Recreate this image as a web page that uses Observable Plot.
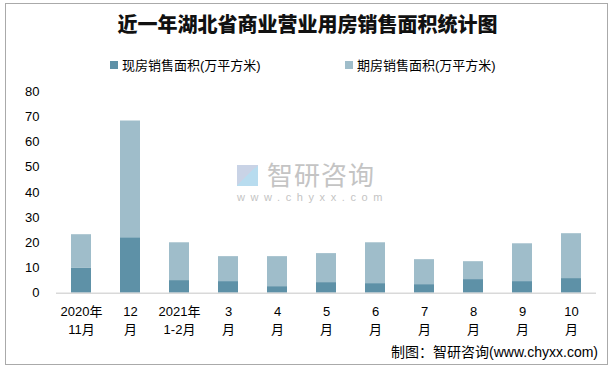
<!DOCTYPE html>
<html>
<head>
<meta charset="utf-8">
<script src="https://cdn.jsdelivr.net/npm/d3@7"></script>
<script src="https://cdn.jsdelivr.net/npm/@observablehq/plot@0.6"></script>
<style>
  html, body { margin: 0; padding: 0; background: #fff; }
  #wrap { position: relative; width: 615px; height: 369px; overflow: hidden; font-family: 'Liberation Sans', 'Noto Sans CJK SC', sans-serif; }
  #frame { position: absolute; left: 5px; top: 3px; width: 603px; height: 362px; border: 1px solid #aaaaaa; box-sizing: border-box; }
  #title { position: absolute; left: 0; width: 615px; top: 10px; text-align: center; font-family: 'Noto Sans CJK SC', sans-serif; font-weight: 900; font-size: 20px; line-height: 28px; color: #111; }
  .leg { position: absolute; top: 58px; font-size: 13px; line-height: 16px; color: #000; white-space: nowrap; font-family: 'Liberation Sans', 'Noto Sans CJK SC', sans-serif; }
  .leg i { display: inline-block; width: 8px; height: 8px; margin-right: 4px; vertical-align: 1px; }
  #caption { position: absolute; right: 17px; top: 343px; font-size: 14px; line-height: 18px; color: #000; white-space: nowrap; }
  #wm { position: absolute; left: 237px; top: 162px; color: #c4c4c4; }
  #wm .logo { position: absolute; left: 0; top: 3px; width: 21px; height: 21px; background: linear-gradient(135deg, #c9d3e6 0%, #c9d3e6 50%, #b8dcef 50%, #b8dcef 100%); }
  #wm .name { position: absolute; left: 30px; top: -3px; font-family: 'Noto Sans CJK SC', sans-serif; font-size: 26px; line-height: 30px; letter-spacing: 1px; white-space: nowrap; }
  #wm .url { position: absolute; left: 0; top: 29px; font-size: 11px; letter-spacing: 5.6px; white-space: nowrap; }
  #chart { position: absolute; left: 0; top: 0; }
</style>
</head>
<body>
<div id="wrap">
  <div id="frame"></div>
  <div id="wm"><div class="logo"></div><div class="name">智研咨询</div><div class="url">www.chyxx.com</div></div>
  <div id="chart"></div>
  <div id="title">近一年湖北省商业营业用房销售面积统计图</div>
  <div class="leg" style="left:110px"><i style="background:#5e91a7"></i>现房销售面积(万平方米)</div>
  <div class="leg" style="left:345px"><i style="background:#9fbdca"></i>期房销售面积(万平方米)</div>
  <div id="caption">制图：智研咨询(www.chyxx.com)</div>
</div>
<script>
const categories = ["2020年\n11月", "12\n月", "2021年\n1-2月", "3\n月", "4\n月", "5\n月", "6\n月", "7\n月", "8\n月", "9\n月", "10\n月"];
const currentSales = [10.0, 22.0, 5.0, 4.6, 2.6, 4.2, 3.8, 3.4, 5.4, 4.6, 5.8];
const futureSales = [13.2, 46.3, 15.0, 9.9, 11.9, 11.5, 16.2, 9.9, 7.1, 15.0, 17.8];
const seriesNames = ["现房销售面积(万平方米)", "期房销售面积(万平方米)"];
const seriesColors = ["#5e91a7", "#9fbdca"];
const yTicks = [0, 10, 20, 30, 40, 50, 60, 70, 80];

const data = categories.flatMap((c, i) => [
  { category: c, series: seriesNames[0], value: currentSales[i] },
  { category: c, series: seriesNames[1], value: futureSales[i] }
]);

const chart = Plot.plot({
  width: 615,
  height: 369,
  marginTop: 91,
  marginBottom: 76.3,
  marginLeft: 56,
  marginRight: 19,
  style: { fontFamily: "'Liberation Sans', 'Noto Sans CJK SC', sans-serif", fontSize: "13px", color: "#000", background: "transparent" },
  x: { domain: categories, paddingInner: 0.59, paddingOuter: 0.295, label: null },
  y: { domain: [0, 80], ticks: yTicks, label: null },
  color: { domain: seriesNames, range: seriesColors },
  marks: [
    Plot.barY(data, { x: "category", y: "value", fill: "series", order: seriesNames }),
    Plot.ruleY([0], { stroke: "#d9d9d9", strokeWidth: 1.5 }),
    Plot.axisY({ ticks: yTicks, tickSize: 0, tickPadding: 17, fontSize: 13, label: null }),
    Plot.axisX({ tickSize: 0, tickPadding: 10, lineHeight: 1.4, fontSize: 13, label: null })
  ]
});
document.getElementById("chart").appendChild(chart);
</script>
</body>
</html>
